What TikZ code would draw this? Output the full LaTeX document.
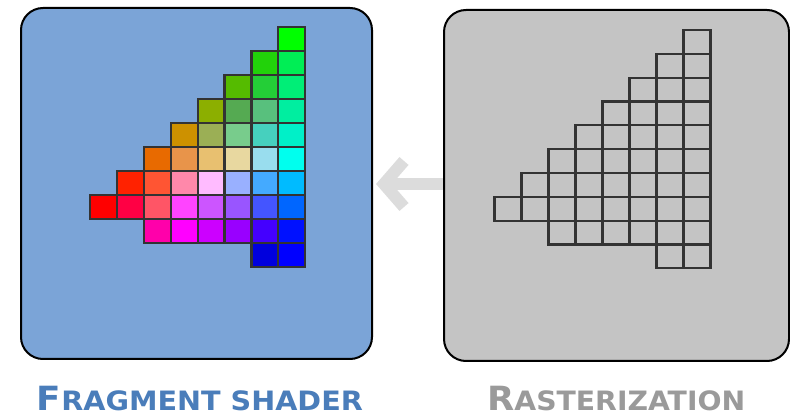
\documentclass[tikz,border=0pt]{standalone}
\usepackage{fontspec}
\setmainfont{DejaVu Sans}
\definecolor{shaderblue}{HTML}{7BA4D7}
\definecolor{rastergray}{HTML}{C4C4C4}
\definecolor{arrowgray}{HTML}{DCDCDC}
\definecolor{gridink}{HTML}{333333}
\definecolor{shadertext}{HTML}{4A7DBA}
\definecolor{rastertext}{HTML}{9A9A9A}
% first letter full size, the rest as small capitals
\newcommand\capsword[2]{{\fontsize{30}{30}\selectfont #1}{\fontsize{24}{24}\selectfont #2}}
\tikzset{
  panel/.style={draw=black, line width=2pt, rounded corners=22pt, inner sep=0pt,
                minimum width=#1},
  panel/.default=350pt,
  gridline/.style={draw=gridink, line width=2.2pt},
  arrowline/.style={draw=arrowgray, line width=12pt},
  caption/.style={font=\bfseries, anchor=base west, inner sep=0pt}
}
\begin{document}
\begin{tikzpicture}[x=1pt,y=-1pt]
\useasboundingbox (0,0) rectangle (790,419);
\fill[white] (0,0) rectangle (790,419);

% the two stage panels
\node[panel=351pt, fill=shaderblue, minimum height=351pt] (shader) at (196.5,183.5) {};
\node[panel=345pt, fill=rastergray, minimum height=351pt] (raster) at (616.5,185.5) {};

% arrow from rasterization back to the fragment shader
\coordinate (tip) at (384,184);
\draw[arrowline] (raster.west |- tip) -- (tip);
\draw[arrowline, line join=miter] (404,161) -- (tip) -- (404,207);

% fragment shader: coloured fragments
\def\sx{90} \def\sdx{26.9} \def\sy{27.3} \def\sdy{23.94}
\foreach \c/\r/\h in {
  8/1/00FF00,
  7/2/22D20A, 8/2/00EE55,
  6/3/55BB00, 7/3/24CE37, 8/3/00EE77,
  5/4/8CAF00, 6/4/55AA52, 7/4/58C07D, 8/4/00EEA0,
  4/5/CD9100, 5/5/9BAF55, 6/5/78CC8C, 7/5/46D0BE, 8/5/00F0C8,
  3/6/E86A00, 4/6/E8944A, 5/6/E8C070, 6/6/E8D8A0, 7/6/99DDEE, 8/6/00FFEE,
  2/7/FF2200, 3/7/FF5533, 4/7/FF88AA, 5/7/FFBBFF, 6/7/99B0FF, 7/7/44AAFF, 8/7/00BBFF,
  1/8/FF0000, 2/8/FF0044, 3/8/FF5566, 4/8/FF44FF, 5/8/CC55FF, 6/8/9955FF, 7/8/4455FF, 8/8/0066FF,
  3/9/FF00AA, 4/9/FF00FF, 5/9/CC00FF, 6/9/9900FF, 7/9/4400FF, 8/9/0011FF,
  7/10/0000DD, 8/10/0000FF}{
  \definecolor{cellfill}{HTML}{\h}
  \pgfmathsetmacro\px{\sx+(\c-1)*\sdx}
  \pgfmathsetmacro\py{\sy+(\r-1)*\sdy}
  \filldraw[gridline, fill=cellfill] (\px,\py) rectangle ++(\sdx,\sdy);
}

% rasterization: empty fragment outlines
\def\rx{494.5} \def\rdx{27.0} \def\ry{30} \def\rdy{23.83}
\foreach \r/\s in {1/8, 2/7, 3/6, 4/5, 5/4, 6/3, 7/2, 8/1, 9/3, 10/7}{
  \foreach \c in {\s,...,8}{
    \pgfmathsetmacro\px{\rx+(\c-1)*\rdx}
    \pgfmathsetmacro\py{\ry+(\r-1)*\rdy}
    \draw[gridline] (\px,\py) rectangle ++(\rdx,\rdy);
  }
}

% stage captions
\node[caption, text=shadertext] (shadercap) at (36.7,411)
  {\resizebox{326pt}{24.3pt}{\capsword{F}{RAGMENT SHADER}}};
\node[caption, text=rastertext] (rastercap) at (487,411)
  {\resizebox{258pt}{24.3pt}{\capsword{R}{ASTERIZATION}}};
\end{tikzpicture}
\end{document}
